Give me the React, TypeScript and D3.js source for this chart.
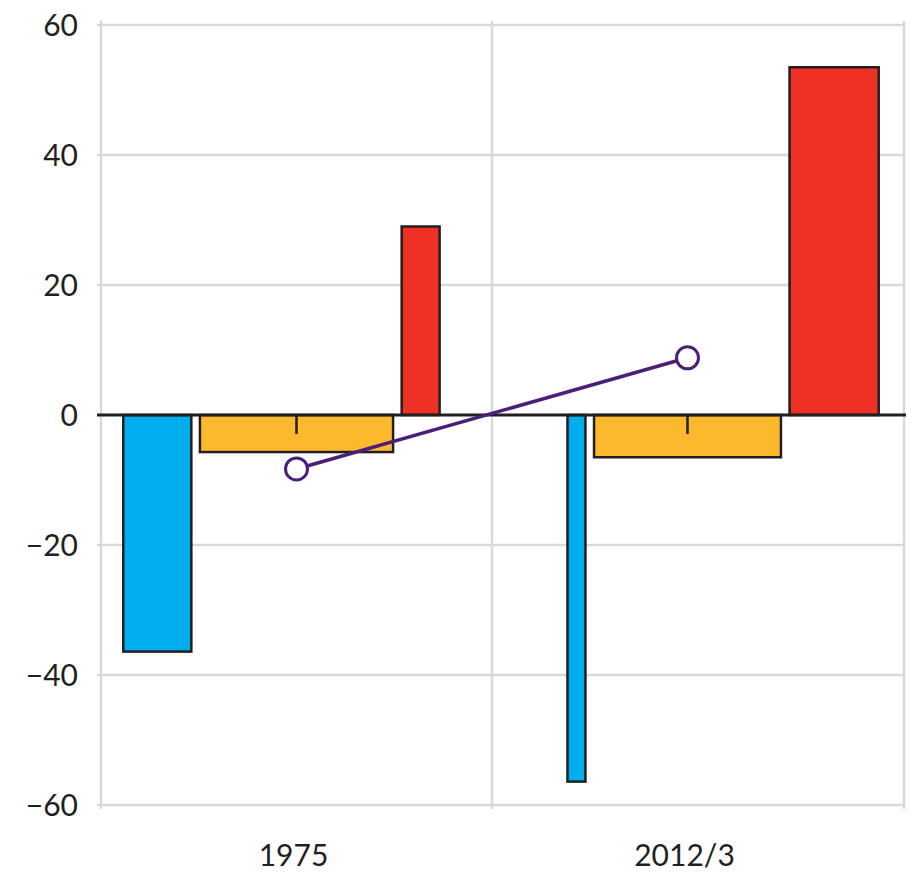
import React from "react";
import * as d3 from "d3";

const categories = ["1975", "2012/3"];
// bar heights
const blueValues = [-36.4, -56.4];
const yellowValues = [-5.7, -6.5];
const redValues = [29.0, 53.5];
// bar widths (share, in % of category band)
const blueWidths = [17.4, 4.6];
const yellowWidths = [49.4, 47.8];
const redWidths = [9.7, 22.8];
// line series
const lineValues = [-8.3, 8.8];
const yTicks = [-60, -40, -20, 0, 20, 40, 60];

const W = 913;
const H = 872;
const left = 101;
const bandW = 391;
const right = 904;
const top = 25;
const bottom = 805;
const gap = 2.2;

const COLORS = {
  blue: "#00AEEF",
  yellow: "#FDB92E",
  red: "#EE3124",
  stroke: "#231F20",
  grid: "#D9D9D9",
  line: "#4B1F78",
  text: "#231F20",
};

export default function App() {
  const y = d3.scaleLinear().domain([-60, 60]).range([bottom, top]);
  const x = d3
    .scaleBand<string>()
    .domain(categories)
    .range([left, left + bandW * categories.length])
    .paddingInner(0)
    .paddingOuter(0);
  const u = d3.scaleLinear().domain([0, 100]).range([0, bandW]);
  const center = (c: string) => (x(c) as number) + x.bandwidth() / 2;

  const bars: { x0: number; x1: number; v: number; fill: string }[] = [];
  categories.forEach((c, i) => {
    const cx = center(c);
    const yw = u(yellowWidths[i]);
    const yx0 = cx - yw / 2;
    const yx1 = cx + yw / 2;
    const bx1 = yx0 - u(gap);
    const bx0 = bx1 - u(blueWidths[i]);
    const rx0 = yx1 + u(gap);
    const rx1 = rx0 + u(redWidths[i]);
    bars.push({ x0: bx0, x1: bx1, v: blueValues[i], fill: COLORS.blue });
    bars.push({ x0: yx0, x1: yx1, v: yellowValues[i], fill: COLORS.yellow });
    bars.push({ x0: rx0, x1: rx1, v: redValues[i], fill: COLORS.red });
  });

  const linePts: [number, number][] = categories.map((c, i) => [center(c), y(lineValues[i])]);
  const lineGen = d3.line();

  const font = "Lato, 'Open Sans', sans-serif";

  return (
    <svg
      width={W}
      height={H}
      style={{ position: "absolute", left: 0, top: 0, background: "#fff" }}
    >
      {/* horizontal gridlines */}
      {yTicks.map((t) => (
        <g key={t}>
          {t !== 0 && (
            <line x1={left - 4} x2={right} y1={y(t)} y2={y(t)} stroke={COLORS.grid} strokeWidth={2.5} />
          )}
          <text
            x={78}
            y={y(t)}
            dy="0.36em"
            textAnchor="end"
            fontFamily={font}
            fontSize={30}
            fill={COLORS.text}
          >
            {t < 0 ? `\u2212${Math.abs(t)}` : `${t}`}
          </text>
        </g>
      ))}
      {/* vertical gridlines */}
      {[left, left + bandW, right].map((vx, i) => (
        <line key={i} x1={vx} x2={vx} y1={y(60) - 4} y2={y(-60) + 4} stroke={COLORS.grid} strokeWidth={2.5} />
      ))}
      {/* bars */}
      {bars.map((b, i) => (
        <rect
          key={i}
          x={b.x0}
          width={b.x1 - b.x0}
          y={Math.min(y(0), y(b.v))}
          height={Math.abs(y(b.v) - y(0))}
          fill={b.fill}
          stroke={COLORS.stroke}
          strokeWidth={2.5}
        />
      ))}
      {/* zero line */}
      <line x1={left - 4} x2={right + 2} y1={y(0)} y2={y(0)} stroke={COLORS.stroke} strokeWidth={2.8} />
      {/* category ticks */}
      {categories.map((c) => (
        <line key={c} x1={center(c)} x2={center(c)} y1={y(0)} y2={y(0) + 19} stroke={COLORS.stroke} strokeWidth={2.5} />
      ))}
      {/* line series */}
      <path d={lineGen(linePts) || ""} fill="none" stroke={COLORS.line} strokeWidth={3.5} />
      {linePts.map((p, i) => (
        <circle key={i} cx={p[0]} cy={p[1]} r={11} fill="#fff" stroke={COLORS.line} strokeWidth={3} />
      ))}
      {/* x labels */}
      {categories.map((c) => (
        <text
          key={c}
          x={center(c) - 3}
          y={866}
          textAnchor="middle"
          fontFamily={font}
          fontSize={30}
          fill={COLORS.text}
        >
          {c}
        </text>
      ))}
    </svg>
  );
}
